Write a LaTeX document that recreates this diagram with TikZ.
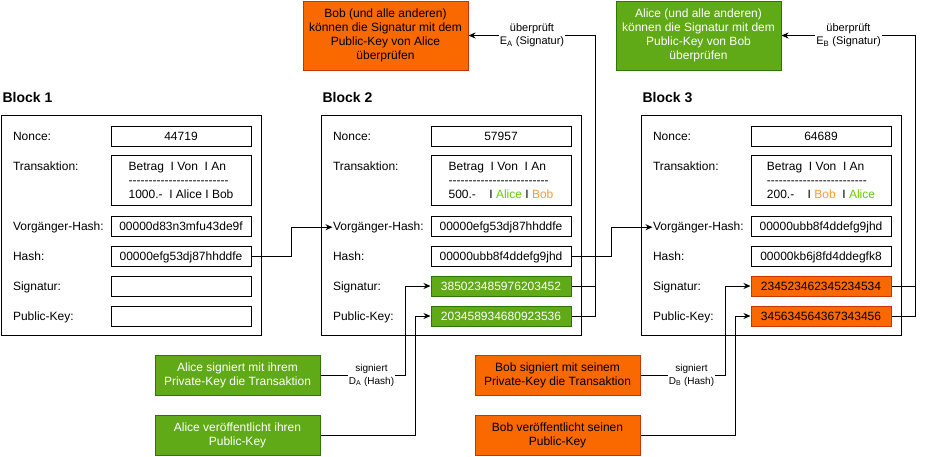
\documentclass[tikz,border=0pt]{standalone}
\usepackage{fontspec}
\setmainfont{Liberation Sans}
\usetikzlibrary{arrows.meta}
\definecolor{gruen}{HTML}{60A917}
\definecolor{gruenrand}{HTML}{2D7600}
\definecolor{orng}{HTML}{FA6800}
\definecolor{orngrand}{HTML}{C73500}
\definecolor{alicegr}{HTML}{66CC00}
\definecolor{bobor}{HTML}{FF9933}
\newcommand\trenner{\foreach\k in {1,...,25}{-\kern0pt}}

\begin{document}
\begin{tikzpicture}[x=1pt, y=-1pt, line width=1pt,
    every node/.style = {font=\fontsize{12}{14}\selectfont},
    blk/.style = {draw, anchor=north west, minimum width=260, minimum height=220},
    ttl/.style = {anchor=base west, inner sep=0, font=\fontsize{14}{16}\selectfont\bfseries},
    lbl/.style = {anchor=base west, inner sep=0},
    val/.style = {draw, minimum width=140, minimum height=20, inner sep=0, text height=8.6, text depth=0},
    tx/.style = {draw, minimum width=140, minimum height=50, align=left},
    gr/.style = {fill=gruen, draw=gruenrand, text=white},
    og/.style = {fill=orng, draw=orngrand},
    note/.style = {minimum width=165, minimum height=40, align=center},
    arr/.style = {-{Stealth[length=7pt, width=6pt]}},
    elbl/.style = {fill=white, align=center, inner sep=1, font=\fontsize{11}{13}\selectfont},
    slbl/.style = {elbl, font=\fontsize{10}{13}\selectfont},
  ]
  \useasboundingbox (0,0) rectangle (926,456);

  % Bloecke mit Feldnamen
  \foreach \i/\b in {1/0, 2/320, 3/640} {
    \node[ttl] at (\b+2, 102) {Block \i};
    \node[blk] (blk\i) at (\b+1, 115) {};
    \foreach \y/\n/\t in {136/nonce/Nonce:, 166/trans/Transaktion:, 226/vorg/Vorgänger-Hash:,
                          256/hash/Hash:, 286/sig/Signatur:, 316/pub/Public-Key:}
      \node[lbl] (\n\i) at (\b+12.5, \y+4.3) {\t};
  }

  % Block 1
  \node[val] at (181,136) {44719};
  \node[tx] at (181,180) {Betrag\ \ I Von\ \ I An\\\trenner\\1000.-\ \ I Alice I Bob};
  \node[val] at (181,226) {00000d83n3mfu43de9f};
  \node[val] (h1) at (181,256) {00000efg53dj87hhddfe};
  \node[val] at (181,286) {};
  \node[val] at (181,316) {};

  % Block 2
  \node[val] at (501,136) {57957};
  \node[tx] at (501,180) {Betrag\ \ I Von\ \ I An\\\trenner\\500.-\ \ \ \ I \textcolor{alicegr}{Alice} I \textcolor{bobor}{Bob}};
  \node[val] at (501,226) {00000efg53dj87hhddfe};
  \node[val] (h2) at (501,256) {00000ubb8f4ddefg9jhd};
  \node[val, gr] (s2) at (501,286) {385023485976203452};
  \node[val, gr] (p2) at (501,316) {203458934680923536};

  % Block 3
  \node[val] at (821,136) {64689};
  \node[tx] at (821,180) {Betrag\ \ I Von\ \ I An\\\trenner\\200.-\ \ \ \ I \textcolor{bobor}{Bob}\ \ I \textcolor{alicegr}{Alice}};
  \node[val] at (821,226) {00000ubb8f4ddefg9jhd};
  \node[val] at (821,256) {00000kb6j8fd4ddegfk8};
  \node[val, og] (s3) at (821,286) {234523462345234534};
  \node[val, og] (p3) at (821,316) {345634564367343456};

  % Hinweise oben und unten
  \node[note, og, minimum height=69] (chk2) at (385.5,35.5) {Bob (und alle anderen)\\können die Signatur mit dem\\Public-Key von Alice\\überprüfen};
  \node[note, gr, minimum height=69] (chk3) at (698.5,35.5) {Alice (und alle anderen)\\können die Signatur mit dem\\Public-Key von Bob\\überprüfen};
  \node[note, gr] (signA) at (237.5,375) {Alice signiert mit ihrem\\Private-Key die Transaktion};
  \node[note, gr] (pubA) at (237.5,435) {Alice veröffentlicht ihren\\Public-Key};
  \node[note, og] (signB) at (557.5,375) {Bob signiert mit seinem\\Private-Key die Transaktion};
  \node[note, og] (pubB) at (557.5,435) {Bob veröffentlicht seinen\\Public-Key};

  % Hash -> Vorgaenger-Hash
  \draw[arr] (h1.east) -- ++(40,0) |- (vorg2.west);
  \draw[arr] (h2.east) -- ++(40,0) |- (vorg3.west);

  % Signieren
  \draw[arr] (signA.east) -| node[slbl, pos=.3] {signiert\\D\textsubscript{A} (Hash)} ([xshift=-25]s2.west) -- (s2.west);
  \draw[arr] (pubA.east) -| ([xshift=-15]p2.west) -- (p2.west);
  \draw[arr] (signB.east) -| node[slbl, pos=.3] {signiert\\D\textsubscript{B} (Hash)} ([xshift=-25]s3.west) -- (s3.west);
  \draw[arr] (pubB.east) -| ([xshift=-15]p3.west) -- (p3.west);

  % Pruefen
  \draw (s2.east) -- ++(24,0);
  \draw[arr] (p2.east) -- ++(24,0) |- node[elbl, pos=.75] {überprüft\\E\textsubscript{A} (Signatur)} (chk2.east);
  \draw (s3.east) -- ++(24,0);
  \draw[arr] (p3.east) -- ++(24,0) |- node[elbl, pos=.75] {überprüft\\E\textsubscript{B} (Signatur)} (chk3.east);
\end{tikzpicture}
\end{document}
